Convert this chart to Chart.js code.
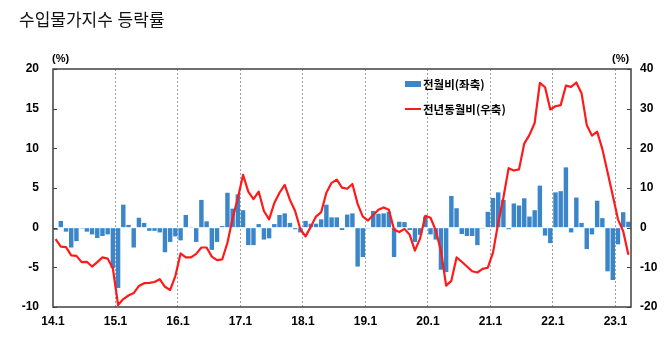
<!DOCTYPE html>
<html lang="ko">
<head>
<meta charset="UTF-8">
<title>수입물가지수 등락률</title>
<script src="https://cdn.jsdelivr.net/npm/chart.js"></script>
<style>
  body { margin: 0; background: #fff; }
  #wrap { position: relative; width: 670px; height: 342px; font-family: "Noto Sans CJK KR", sans-serif; color: #000; }
  #chart { position: absolute; left: 0; top: 0; }
  .title { position: absolute; left: 19px; top: 6px; font-size: 17px; color: #111; white-space: nowrap; }
  .unit { position: absolute; top: 52px; font: bold 11px "Liberation Sans", Arial, sans-serif; }
  .legend { position: absolute; left: 405px; font-size: 11.5px; font-weight: bold; white-space: nowrap; }
  .legend div { position: relative; height: 16px; line-height: 16px; padding-left: 18px; }
  .legend span { position: absolute; left: 0; }
</style>
</head>
<body>
<div id="wrap">
  <canvas id="chart" width="670" height="342"></canvas>
  <div class="title">수입물가지수 등락률</div>
  <div class="unit" style="left:52px">(%)</div>
  <div class="unit" style="left:612px">(%)</div>
  <div class="legend" style="top:76px">
    <div><span style="top:5px;width:16px;height:6px;background:#3a86c8"></span>전월비(좌축)</div>
  </div>
  <div class="legend" style="top:101px">
    <div><span style="top:7px;width:16px;height:2px;background:#ff1a1a"></span>전년동월비(우축)</div>
  </div>
</div>

<script>
// 연도 구분 눈금 (매년 1월)
const yearLabels = ['14.1', '15.1', '16.1', '17.1', '18.1', '19.1', '20.1', '21.1', '22.1', '23.1'];

// 전월비 (%, 좌축) 2014.1 ~ 2023.3
const momChange = [
  -0.3, 0.85, -0.5, -2.5, -1.7, -0.1, -0.5, -0.85, -1.3, -1.05, -0.85, -5.1,
  -7.6, 2.9, 0.35, -2.5, 1.25, 0.6, -0.4, -0.4, -0.6, -3.1, -1.8, -1.1,
  -1.6, 1.6, 0.1, -1.8, 3.5, 0.8, -2.8, -1.8, 0.2, 4.4, 2.4, 4.2,
  2.2, -2.2, -2.2, 0.45, -1.5, -1.35, 0.45, 1.6, 1.8, 0.6, -0.2, -0.6,
  0.85, 0.5, 0.5, 1.05, 2.9, 1.3, 1.3, -0.3, 1.65, 1.8, -4.9, -3.7,
  -0.1, 2.1, 1.75, 1.8, 2.0, -3.7, 0.75, 0.7, -0.3, -1.8, -0.9, 1.4,
  -0.85, -1.5, -5.3, -5.6, 4.0, 2.45, -0.8, -1.05, -1.05, -2.2, -0.1, 2.0,
  3.75, 4.45, 3.5, -0.2, 3.05, 2.8, 3.7, 1.4, 2.2, 5.3, -1.0, -1.95,
  4.45, 4.6, 7.6, -0.6, 3.8, 0.6, -2.7, -0.85, 3.4, 1.2, -5.5, -6.6,
  -2.1, 1.95, 0.75
];

// 전년동월비 (%, 우축)
const yoyChange = [
  -2.9, -4.8, -4.9, -7.0, -7.1, -8.7, -8.6, -9.8, -8.7, -7.5, -7.8, -10.3,
  -19.5, -18.0, -17.1, -16.5, -14.7, -14.0, -13.9, -13.7, -13.0, -14.9, -15.7, -12.2,
  -6.5, -7.5, -7.5, -6.6, -5.0, -5.0, -7.3, -8.2, -8.0, -3.8, 2.4, 7.5,
  13.3, 9.1, 7.2, 9.1, 4.2, 2.1, 6.2, 8.8, 10.8, 7.0, 4.2, -0.4,
  -2.2, 0.2, 2.8, 3.9, 8.8, 11.3, 12.1, 10.1, 9.8, 11.0, 6.0, 2.8,
  1.8, 3.2, 4.5, 5.1, 4.5, -0.5, -1.1, -0.3, -1.8, -5.8, -2.7, 3.0,
  2.5, -0.7, -5.8, -14.6, -13.4, -7.5, -8.6, -9.8, -11.0, -11.3, -10.4, -10.1,
  -6.3, 1.2, 7.6, 15.0, 14.4, 14.7, 21.2, 23.4, 26.4, 36.5, 35.4, 29.8,
  30.6, 30.9, 35.8, 35.5, 36.6, 33.9, 25.9, 23.2, 24.2, 19.8, 14.0, 8.1,
  2.1, -0.9, -6.8
];

const months = momChange.length;
const tickFont = { family: '"Liberation Sans", Arial, sans-serif', size: 12, weight: 'bold' };

// 월 i 는 [i, i+1] 구간의 가운데에 놓인다
const barPoints = momChange.map((v, i) => ({ x: i + 0.5, y: v }));
const linePoints = yoyChange.map((v, i) => ({ x: i + 0.5, y: v }));

// 테두리와 안쪽 눈금
const frame = {
  id: 'frame',
  afterDatasetsDraw(chart) {
    const { ctx, chartArea: a, scales } = chart;
    ctx.save();
    ctx.strokeStyle = '#404040';
    ctx.lineWidth = 1.5;
    ctx.strokeRect(a.left, a.top, a.right - a.left, a.bottom - a.top);
    ctx.lineWidth = 1;
    ctx.beginPath();
    scales.y.ticks.forEach(t => {
      const py = Math.round(scales.y.getPixelForValue(t.value)) + 0.5;
      ctx.moveTo(a.left, py); ctx.lineTo(a.left + 4, py);
    });
    scales.y1.ticks.forEach(t => {
      const py = Math.round(scales.y1.getPixelForValue(t.value)) + 0.5;
      ctx.moveTo(a.right - 4, py); ctx.lineTo(a.right, py);
    });
    ctx.stroke();
    ctx.restore();
  }
};

new Chart(document.getElementById('chart'), {
  type: 'bar',
  data: {
    datasets: [
      {
        type: 'line',
        label: '전년동월비(우축)',
        data: linePoints,
        yAxisID: 'y1',
        borderColor: '#ff1a1a',
        borderWidth: 2.2,
        pointRadius: 0,
        tension: 0,
        borderJoinStyle: 'round',
        order: 0
      },
      {
        label: '전월비(좌축)',
        data: barPoints,
        yAxisID: 'y',
        backgroundColor: '#3a86c8',
        barPercentage: 0.85,
        categoryPercentage: 1,
        order: 1
      }
    ]
  },
  options: {
    responsive: false,
    animation: false,
    layout: { padding: { top: 69, left: 0, right: 0, bottom: 0 } },
    plugins: { legend: { display: false }, tooltip: { enabled: false } },
    scales: {
      x: {
        type: 'linear',
        min: 0,
        max: months,
        offset: false,
        afterFit(s) { s.height = 35; },
        grid: {
          offset: false,
          drawTicks: false,
          lineWidth: 1,
          color: c => {
            const v = c.tick ? c.tick.value : 0;
            return (v % 12 === 0 && v > 0 && v < months) ? '#a0a0a0' : 'rgba(0,0,0,0)';
          }
        },
        border: { display: false, dash: [2, 2] },
        ticks: {
          stepSize: 12,
          includeBounds: false,
          padding: 7,
          maxRotation: 0,
          autoSkip: false,
          color: '#000',
          font: tickFont,
          callback: v => (v % 12 === 0 && v < months) ? yearLabels[v / 12] : null
        }
      },
      y: {
        position: 'left',
        min: -10,
        max: 20,
        afterFit(s) { s.width = 53; },
        grid: { drawOnChartArea: false, drawTicks: false },
        border: { display: false },
        ticks: { stepSize: 5, padding: 14, color: '#000', font: tickFont }
      },
      y1: {
        position: 'right',
        min: -20,
        max: 40,
        afterFit(s) { s.width = 39; },
        grid: { drawOnChartArea: false, drawTicks: false },
        border: { display: false },
        ticks: { stepSize: 10, padding: 9, color: '#000', font: tickFont }
      }
    }
  },
  plugins: [frame]
});
</script>
</body>
</html>
